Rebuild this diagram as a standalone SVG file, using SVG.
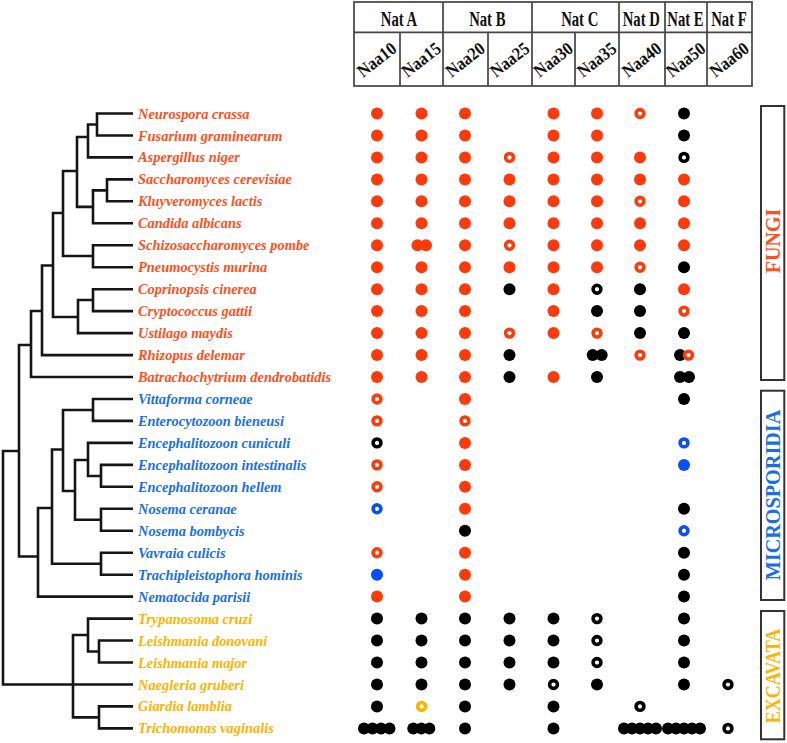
<svg xmlns="http://www.w3.org/2000/svg" xmlns:xlink="http://www.w3.org/1999/xlink" width="787" height="743" viewBox="0 0 787 743">
<style>
.sp{font-family:"Liberation Serif",serif;font-weight:bold;font-style:italic;font-size:14.4px}
.fu{fill:#FF5020}.mi{fill:#1A6FE8}.ex{fill:#FFB300}
.hd{font-family:"Liberation Serif",serif;font-weight:bold;font-size:21px;text-anchor:middle;fill:#111}
.nl{font-family:"Liberation Serif",serif;font-weight:bold;font-size:18px;text-anchor:middle;fill:#111}
.grp{font-family:"Liberation Serif",serif;font-weight:bold;font-size:20px;text-anchor:middle}
.tl{fill:none;stroke:#151515;stroke-width:2.6;stroke-linejoin:miter}
.tb{fill:none;stroke:#444;stroke-width:1.7}
.bx{fill:#fff;stroke:#333;stroke-width:2}
</style>
<defs>
<circle id="R" r="6" fill="#FF3A0A"/>
<circle id="r" r="3.9" fill="none" stroke="#FF3A0A" stroke-width="3.6"/>
<circle id="K" r="6" fill="#000"/>
<circle id="k" r="3.9" fill="none" stroke="#000" stroke-width="3.6"/>
<circle id="B" r="6" fill="#0A4FF5"/>
<circle id="b" r="3.9" fill="none" stroke="#0A4FF5" stroke-width="3.6"/>
<circle id="y" r="3.9" fill="none" stroke="#FFB300" stroke-width="3.6"/>
</defs>

<g id="header">
<rect class="tb" x="354" y="2" width="398" height="84"/>
<path class="tb" d="M354 32.3H752M443 2V86M532 2V86M619 2V86M665 2V86M707 2V86M400 32.3V86M488 32.3V86M575 32.3V86"/>
<text class="hd" transform="translate(399 25.5) scale(0.7 1)">Nat A</text>
<text class="hd" transform="translate(487.3 25.5) scale(0.7 1)">Nat B</text>
<text class="hd" transform="translate(579.7 25.5) scale(0.7 1)">Nat C</text>
<text class="hd" transform="translate(641.3 25.5) scale(0.7 1)">Nat D</text>
<text class="hd" transform="translate(685.5 25.5) scale(0.7 1)">Nat E</text>
<text class="hd" transform="translate(729 25.5) scale(0.7 1)">Nat F</text>
<text class="nl" transform="translate(377 60) rotate(-38) scale(0.9 1)" y="5.5">Naa10</text>
<text class="nl" transform="translate(421.5 60) rotate(-38) scale(0.9 1)" y="5.5">Naa15</text>
<text class="nl" transform="translate(465.5 60) rotate(-38) scale(0.9 1)" y="5.5">Naa20</text>
<text class="nl" transform="translate(510 60) rotate(-38) scale(0.9 1)" y="5.5">Naa25</text>
<text class="nl" transform="translate(553.5 60) rotate(-38) scale(0.9 1)" y="5.5">Naa30</text>
<text class="nl" transform="translate(597 60) rotate(-38) scale(0.9 1)" y="5.5">Naa35</text>
<text class="nl" transform="translate(642 60) rotate(-38) scale(0.9 1)" y="5.5">Naa40</text>
<text class="nl" transform="translate(686 60) rotate(-38) scale(0.9 1)" y="5.5">Naa50</text>
<text class="nl" transform="translate(729.5 60) rotate(-38) scale(0.9 1)" y="5.5">Naa60</text>
</g>

<g id="connectors" class="tl">
<path d="M133 113.5H97V135.5H133"/>
<path d="M97 124.5H88V157.4H133"/>
<path d="M133 179.4H107V201.3H133"/>
<path d="M107 190.4H93V223.3H133"/>
<path d="M88 137H77V206.9H93"/>
<path d="M133 245.3H93V267.2H133"/>
<path d="M77 171H63V256H93"/>
<path d="M133 289.2H93V311.1H133"/>
<path d="M93 300H78V333.1H133"/>
<path d="M63 213H53V317H78"/>
<path d="M53 265.5H42V355.1H133"/>
<path d="M42 311H31V377H133"/>
<path d="M133 399H93V420.9H133"/>
<path d="M133 464.9H101V486.8H133"/>
<path d="M133 442.9H88V476H101"/>
<path d="M133 508.8H101V530.7H133"/>
<path d="M88 460H75V519.8H101"/>
<path d="M93 410H63V491H75"/>
<path d="M133 552.7H101V574.7H133"/>
<path d="M63 449.5H52V563.7H101"/>
<path d="M52 508H38V596.6H133"/>
<path d="M31 345H19V556.5H38"/>
<path d="M133 640.5H99V662.5H133"/>
<path d="M133 618.6H88V651.5H99"/>
<path d="M133 706.4H99V728.4H133"/>
<path d="M88 635H73V717.4H99"/>
<path d="M19 451H3V684.5H133"/>
</g>

<g id="n0"><text class="sp fu" x="138" y="118.5">Neurospora crassa</text>
<use href="#R" x="377" y="113.5"/><use href="#R" x="421.5" y="113.5"/><use href="#R" x="465" y="113.5"/><use href="#R" x="553.5" y="113.5"/><use href="#R" x="597" y="113.5"/><use href="#r" x="640" y="113.5"/><use href="#K" x="684" y="113.5"/></g>
<g id="n1"><text class="sp fu" x="138" y="140.5">Fusarium graminearum</text>
<use href="#R" x="377" y="135.5"/><use href="#R" x="421.5" y="135.5"/><use href="#R" x="465" y="135.5"/><use href="#R" x="553.5" y="135.5"/><use href="#R" x="597" y="135.5"/><use href="#K" x="684" y="135.5"/></g>
<g id="n2"><text class="sp fu" x="138" y="162.4">Aspergillus niger</text>
<use href="#R" x="377" y="157.4"/><use href="#R" x="421.5" y="157.4"/><use href="#R" x="465" y="157.4"/><use href="#r" x="509.5" y="157.4"/><use href="#R" x="553.5" y="157.4"/><use href="#R" x="597" y="157.4"/><use href="#R" x="640" y="157.4"/><use href="#k" x="684" y="157.4"/></g>
<g id="n3"><text class="sp fu" x="138" y="184.4">Saccharomyces cerevisiae</text>
<use href="#R" x="377" y="179.4"/><use href="#R" x="421.5" y="179.4"/><use href="#R" x="465" y="179.4"/><use href="#R" x="509.5" y="179.4"/><use href="#R" x="553.5" y="179.4"/><use href="#R" x="597" y="179.4"/><use href="#R" x="640" y="179.4"/><use href="#R" x="684" y="179.4"/></g>
<g id="n4"><text class="sp fu" x="138" y="206.3">Kluyveromyces lactis</text>
<use href="#R" x="377" y="201.3"/><use href="#R" x="421.5" y="201.3"/><use href="#R" x="465" y="201.3"/><use href="#R" x="509.5" y="201.3"/><use href="#R" x="553.5" y="201.3"/><use href="#R" x="597" y="201.3"/><use href="#r" x="640" y="201.3"/><use href="#R" x="684" y="201.3"/></g>
<g id="n5"><text class="sp fu" x="138" y="228.3">Candida albicans</text>
<use href="#R" x="377" y="223.3"/><use href="#R" x="421.5" y="223.3"/><use href="#R" x="465" y="223.3"/><use href="#R" x="509.5" y="223.3"/><use href="#R" x="553.5" y="223.3"/><use href="#R" x="597" y="223.3"/><use href="#R" x="640" y="223.3"/><use href="#R" x="684" y="223.3"/></g>
<g id="n6"><text class="sp fu" x="138" y="250.3">Schizosaccharomyces pombe</text>
<use href="#R" x="377" y="245.3"/><use href="#R" x="417.5" y="245.3"/><use href="#R" x="426" y="245.3"/><use href="#R" x="465" y="245.3"/><use href="#r" x="509.5" y="245.3"/><use href="#R" x="553.5" y="245.3"/><use href="#R" x="597" y="245.3"/><use href="#R" x="640" y="245.3"/><use href="#R" x="684" y="245.3"/></g>
<g id="n7"><text class="sp fu" x="138" y="272.2">Pneumocystis murina</text>
<use href="#R" x="377" y="267.2"/><use href="#R" x="421.5" y="267.2"/><use href="#R" x="465" y="267.2"/><use href="#R" x="509.5" y="267.2"/><use href="#R" x="553.5" y="267.2"/><use href="#R" x="597" y="267.2"/><use href="#r" x="640" y="267.2"/><use href="#K" x="684" y="267.2"/></g>
<g id="n8"><text class="sp fu" x="138" y="294.2">Coprinopsis cinerea</text>
<use href="#R" x="377" y="289.2"/><use href="#R" x="421.5" y="289.2"/><use href="#R" x="465" y="289.2"/><use href="#K" x="509.5" y="289.2"/><use href="#R" x="553.5" y="289.2"/><use href="#k" x="597" y="289.2"/><use href="#K" x="640" y="289.2"/><use href="#R" x="684" y="289.2"/></g>
<g id="n9"><text class="sp fu" x="138" y="316.1">Cryptococcus gattii</text>
<use href="#R" x="377" y="311.1"/><use href="#R" x="421.5" y="311.1"/><use href="#R" x="465" y="311.1"/><use href="#R" x="553.5" y="311.1"/><use href="#K" x="597" y="311.1"/><use href="#K" x="640" y="311.1"/><use href="#r" x="684" y="311.1"/></g>
<g id="n10"><text class="sp fu" x="138" y="338.1">Ustilago maydis</text>
<use href="#R" x="377" y="333.1"/><use href="#R" x="421.5" y="333.1"/><use href="#R" x="465" y="333.1"/><use href="#r" x="509.5" y="333.1"/><use href="#R" x="553.5" y="333.1"/><use href="#r" x="597" y="333.1"/><use href="#K" x="640" y="333.1"/><use href="#K" x="684" y="333.1"/></g>
<g id="n11"><text class="sp fu" x="138" y="360.1">Rhizopus delemar</text>
<use href="#R" x="377" y="355.1"/><use href="#R" x="421.5" y="355.1"/><use href="#R" x="465" y="355.1"/><use href="#K" x="509.5" y="355.1"/><use href="#K" x="592.7" y="355.1"/><use href="#K" x="601.7" y="355.1"/><use href="#r" x="640" y="355.1"/><use href="#K" x="680" y="355.1"/><use href="#r" x="688.5" y="355.1"/></g>
<g id="n12"><text class="sp fu" x="138" y="382">Batrachochytrium dendrobatidis</text>
<use href="#R" x="377" y="377"/><use href="#R" x="421.5" y="377"/><use href="#R" x="465" y="377"/><use href="#K" x="509.5" y="377"/><use href="#R" x="553.5" y="377"/><use href="#K" x="597" y="377"/><use href="#K" x="680" y="377"/><use href="#K" x="689" y="377"/></g>
<g id="n13"><text class="sp mi" x="138" y="404">Vittaforma corneae</text>
<use href="#r" x="377" y="399"/><use href="#R" x="465" y="399"/><use href="#K" x="684" y="399"/></g>
<g id="n14"><text class="sp mi" x="138" y="425.9">Enterocytozoon bieneusi</text>
<use href="#r" x="377" y="420.9"/><use href="#r" x="465" y="420.9"/></g>
<g id="n15"><text class="sp mi" x="138" y="447.9">Encephalitozoon cuniculi</text>
<use href="#k" x="377" y="442.9"/><use href="#R" x="465" y="442.9"/><use href="#b" x="684" y="442.9"/></g>
<g id="n16"><text class="sp mi" x="138" y="469.9">Encephalitozoon intestinalis</text>
<use href="#r" x="377" y="464.9"/><use href="#R" x="465" y="464.9"/><use href="#B" x="684" y="464.9"/></g>
<g id="n17"><text class="sp mi" x="138" y="491.8">Encephalitozoon hellem</text>
<use href="#r" x="377" y="486.8"/><use href="#R" x="465" y="486.8"/></g>
<g id="n18"><text class="sp mi" x="138" y="513.8">Nosema ceranae</text>
<use href="#b" x="377" y="508.8"/><use href="#R" x="465" y="508.8"/><use href="#K" x="684" y="508.8"/></g>
<g id="n19"><text class="sp mi" x="138" y="535.7">Nosema bombycis</text>
<use href="#K" x="465" y="530.7"/><use href="#b" x="684" y="530.7"/></g>
<g id="n20"><text class="sp mi" x="138" y="557.7">Vavraia culicis</text>
<use href="#r" x="377" y="552.7"/><use href="#R" x="465" y="552.7"/><use href="#K" x="684" y="552.7"/></g>
<g id="n21"><text class="sp mi" x="138" y="579.7">Trachipleistophora hominis</text>
<use href="#B" x="377" y="574.7"/><use href="#R" x="465" y="574.7"/><use href="#K" x="684" y="574.7"/></g>
<g id="n22"><text class="sp mi" x="138" y="601.6">Nematocida parisii</text>
<use href="#R" x="377" y="596.6"/><use href="#R" x="465" y="596.6"/><use href="#K" x="684" y="596.6"/></g>
<g id="n23"><text class="sp ex" x="138" y="623.6">Trypanosoma cruzi</text>
<use href="#K" x="377" y="618.6"/><use href="#K" x="421.5" y="618.6"/><use href="#K" x="465" y="618.6"/><use href="#K" x="509.5" y="618.6"/><use href="#K" x="553.5" y="618.6"/><use href="#k" x="597" y="618.6"/><use href="#K" x="684" y="618.6"/></g>
<g id="n24"><text class="sp ex" x="138" y="645.5">Leishmania donovani</text>
<use href="#K" x="377" y="640.5"/><use href="#K" x="421.5" y="640.5"/><use href="#K" x="465" y="640.5"/><use href="#K" x="509.5" y="640.5"/><use href="#K" x="553.5" y="640.5"/><use href="#k" x="597" y="640.5"/><use href="#K" x="684" y="640.5"/></g>
<g id="n25"><text class="sp ex" x="138" y="667.5">Leishmania major</text>
<use href="#K" x="377" y="662.5"/><use href="#K" x="421.5" y="662.5"/><use href="#K" x="465" y="662.5"/><use href="#K" x="509.5" y="662.5"/><use href="#K" x="553.5" y="662.5"/><use href="#k" x="597" y="662.5"/><use href="#K" x="684" y="662.5"/></g>
<g id="n26"><text class="sp ex" x="138" y="689.5">Naegleria gruberi</text>
<use href="#K" x="377" y="684.5"/><use href="#K" x="421.5" y="684.5"/><use href="#K" x="465" y="684.5"/><use href="#K" x="509.5" y="684.5"/><use href="#k" x="553.5" y="684.5"/><use href="#K" x="597" y="684.5"/><use href="#K" x="684" y="684.5"/><use href="#k" x="728" y="684.5"/></g>
<g id="n27"><text class="sp ex" x="138" y="711.4">Giardia lamblia</text>
<use href="#K" x="377" y="706.4"/><use href="#y" x="421.5" y="706.4"/><use href="#K" x="465" y="706.4"/><use href="#K" x="553.5" y="706.4"/><use href="#k" x="640" y="706.4"/></g>
<g id="n28"><text class="sp ex" x="138" y="733.4">Trichomonas vaginalis</text>
<use href="#K" x="364" y="728.4"/><use href="#K" x="372.5" y="728.4"/><use href="#K" x="381" y="728.4"/><use href="#K" x="389.5" y="728.4"/>
<use href="#K" x="413.3" y="728.4"/><use href="#K" x="421.3" y="728.4"/><use href="#K" x="429.3" y="728.4"/>
<use href="#K" x="465" y="728.4"/><use href="#K" x="553.5" y="728.4"/>
<use href="#K" x="624" y="728.4"/><use href="#K" x="632" y="728.4"/><use href="#K" x="640" y="728.4"/><use href="#K" x="648" y="728.4"/><use href="#K" x="656" y="728.4"/>
<use href="#K" x="668" y="728.4"/><use href="#K" x="676" y="728.4"/><use href="#K" x="684" y="728.4"/><use href="#K" x="692" y="728.4"/><use href="#K" x="700" y="728.4"/>
<use href="#k" x="728" y="728.4"/></g>

<g id="fungi">
<rect class="bx" x="761" y="106" width="23.3" height="274"/>
<text class="grp" fill="#FF5020" transform="translate(780 241) rotate(-90)">FUNGI</text>
</g>
<g id="microsporidia">
<rect class="bx" x="761" y="390.7" width="23.3" height="209.3"/>
<text class="grp" fill="#1A6FE8" transform="translate(780 495) rotate(-90) scale(1.01 1)">MICROSPORIDIA</text>
</g>
<g id="excavata">
<rect class="bx" x="761" y="611" width="23.3" height="128.3"/>
<text class="grp" fill="#FFB300" transform="translate(780 676) rotate(-90) scale(0.9 1)">EXCAVATA</text>
</g>
</svg>
